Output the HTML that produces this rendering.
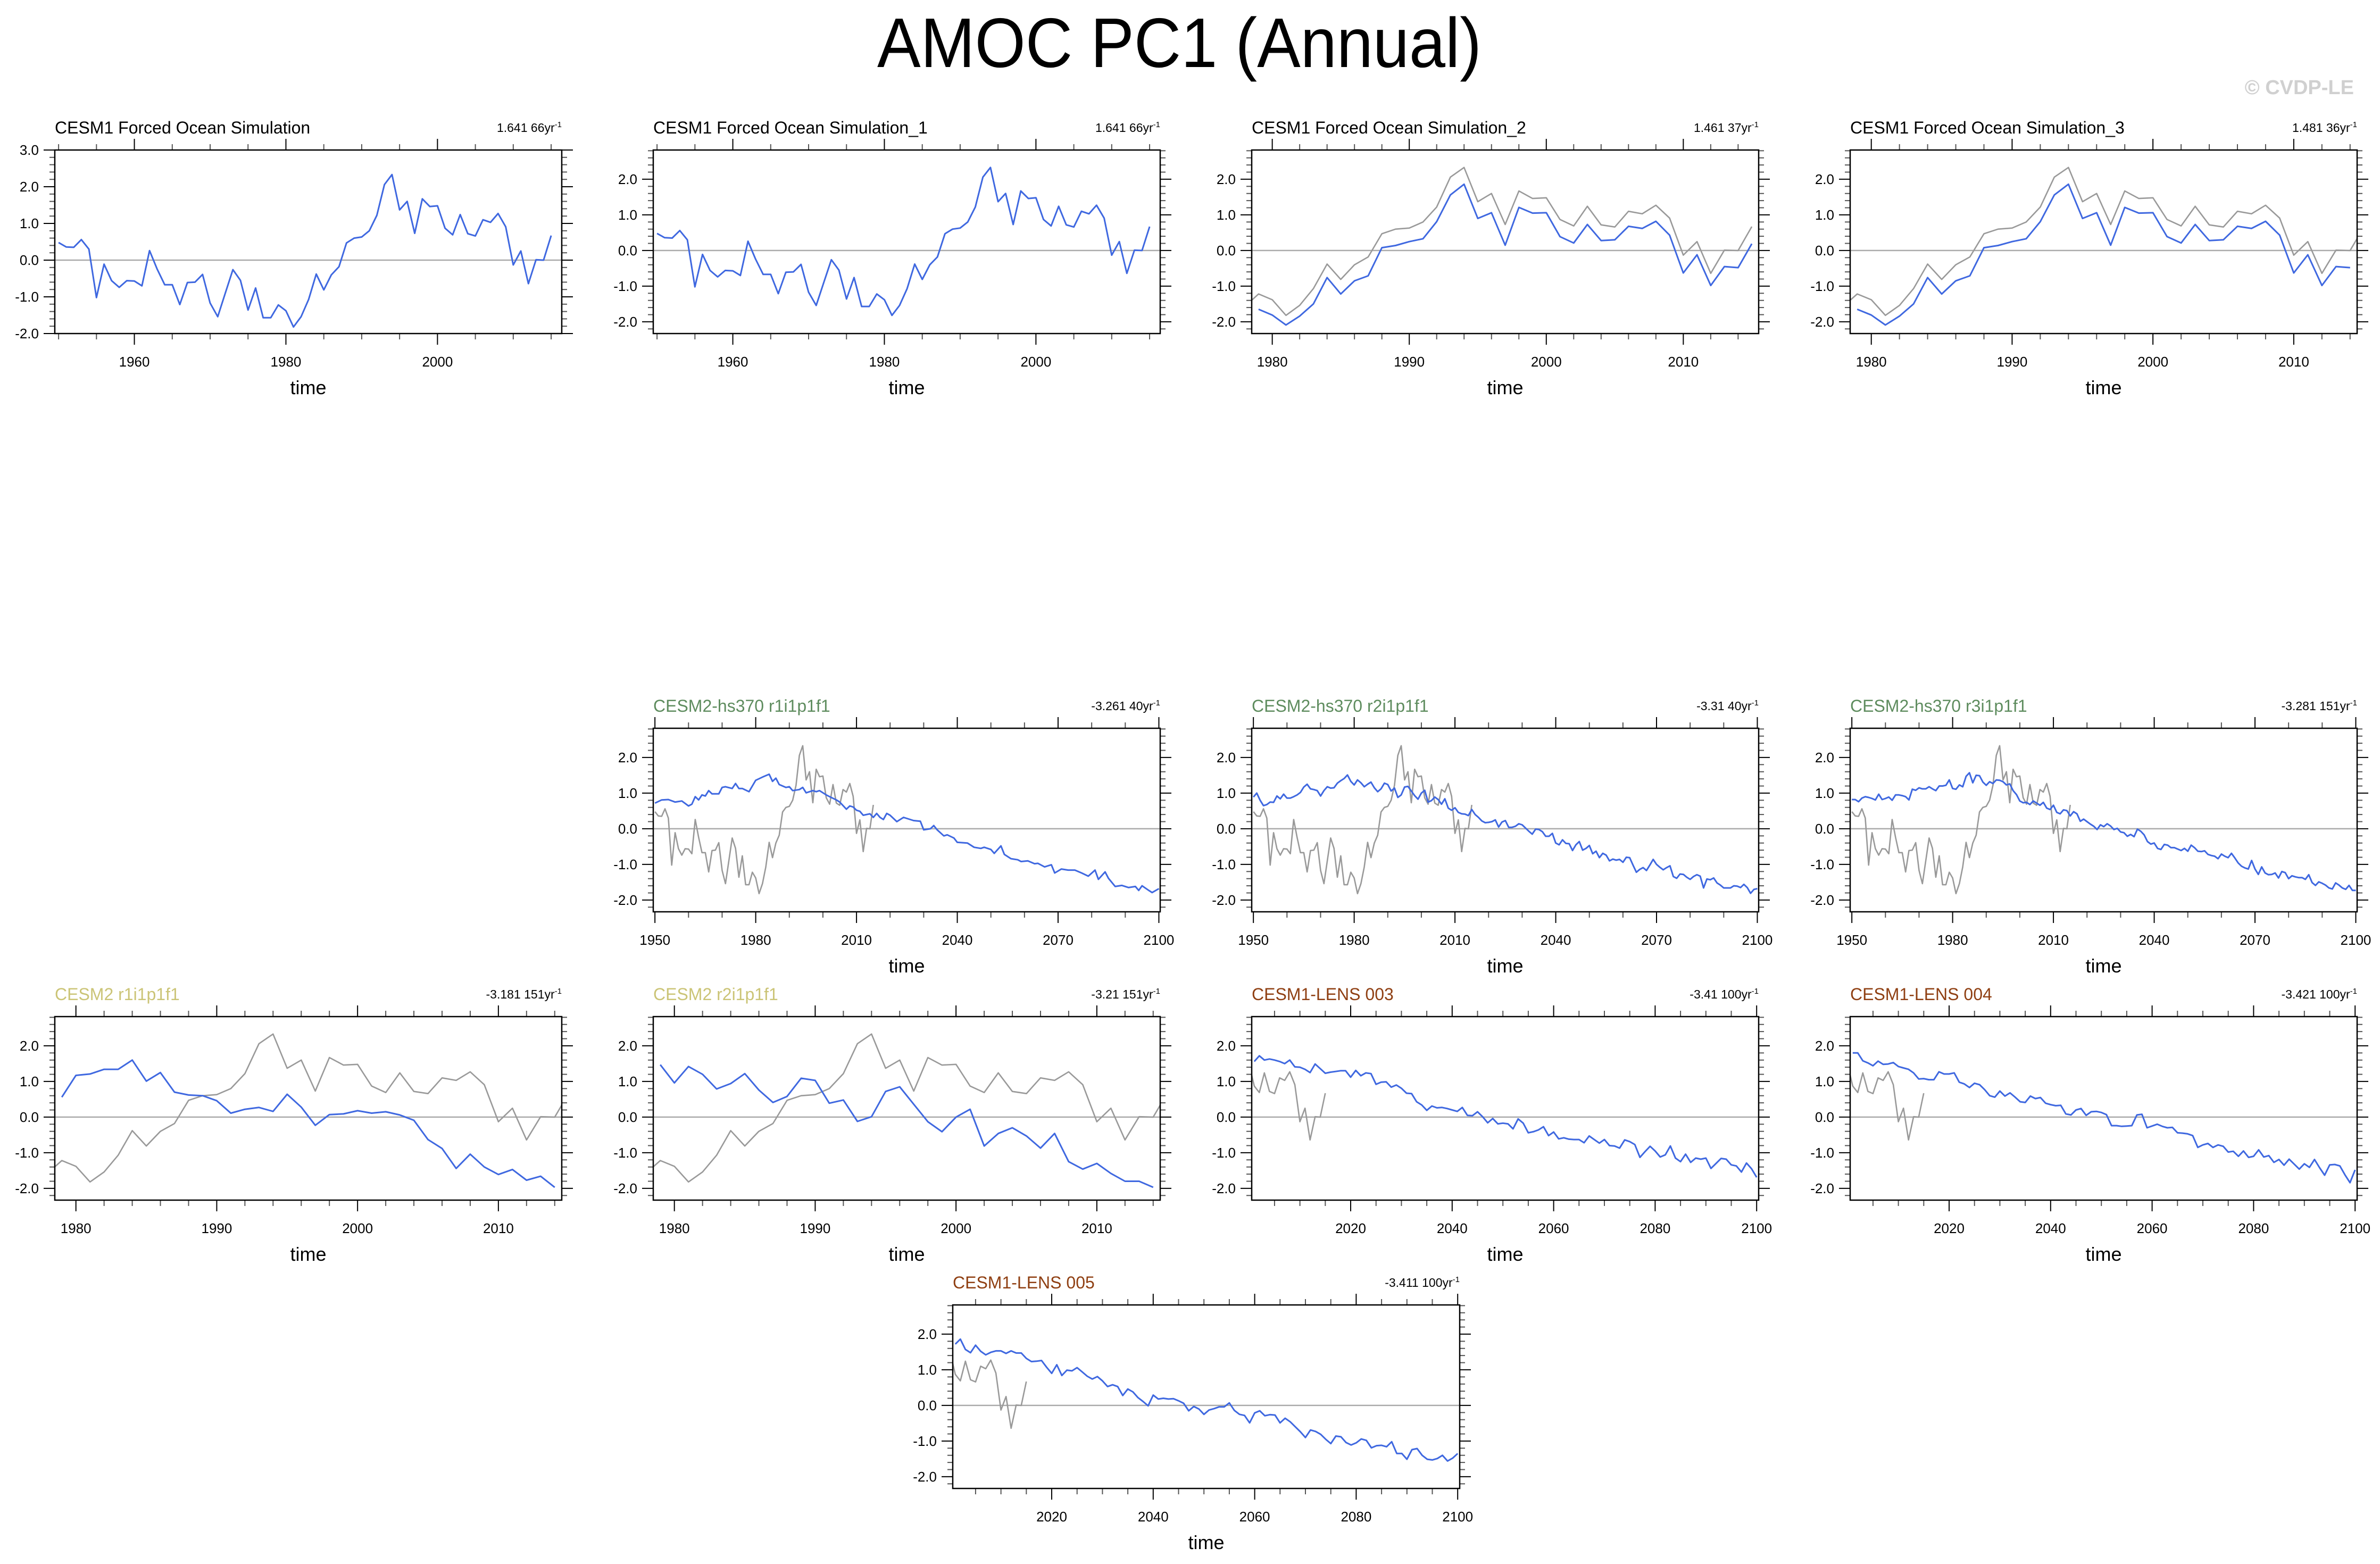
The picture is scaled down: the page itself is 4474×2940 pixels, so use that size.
<!DOCTYPE html>
<html><head><meta charset="utf-8"><title>AMOC PC1 (Annual)</title>
<style>
html,body{margin:0;padding:0;background:#fff;}
svg{display:block;font-family:"Liberation Sans",Arial,sans-serif;}
</style></head>
<body>
<svg id="chart" width="4474" height="2940" viewBox="0 0 4474 2940" xmlns="http://www.w3.org/2000/svg">
<rect x="0" y="0" width="4474" height="2940" fill="#fff"/>
<text x="2217" y="126" font-size="132" text-anchor="middle" textLength="1136" lengthAdjust="spacingAndGlyphs" fill="#000">AMOC PC1 (Annual)</text>
<text x="4425" y="177" font-size="38" font-weight="bold" text-anchor="end" fill="#d0d0d0">© CVDP-LE</text>
<defs id="defs"></defs>
</svg>
<script>
// ---------- data ----------
const obsStart = 1950;
const obsValues = [0.48,0.36,0.35,0.56,0.30,-1.02,-0.11,-0.56,-0.74,-0.56,-0.57,-0.70,0.26,-0.24,-0.67,-0.67,-1.21,-0.61,-0.60,-0.39,-1.17,-1.54,-0.90,-0.26,-0.55,-1.36,-0.76,-1.57,-1.57,-1.22,-1.38,-1.82,-1.54,-1.07,-0.38,-0.81,-0.40,-0.18,0.47,0.60,0.63,0.80,1.22,2.06,2.33,1.37,1.60,0.73,1.67,1.46,1.48,0.87,0.69,1.24,0.72,0.66,1.10,1.03,1.27,0.91,-0.13,0.25,-0.64,0.01,0.00,0.67];

const fosi2Start = 1979;
const fosi2Values = [-1.65,-1.81,-2.09,-1.84,-1.50,-0.76,-1.22,-0.85,-0.71,0.08,0.14,0.25,0.33,0.81,1.56,1.86,0.90,1.06,0.15,1.21,1.05,1.06,0.39,0.21,0.73,0.28,0.30,0.68,0.62,0.82,0.43,-0.63,-0.12,-0.98,-0.45,-0.48,0.19];
const fosi3Start = 1979;
const fosi3Values = [-1.65,-1.81,-2.09,-1.84,-1.50,-0.76,-1.22,-0.85,-0.71,0.08,0.14,0.25,0.33,0.81,1.56,1.86,0.90,1.06,0.15,1.21,1.05,1.06,0.39,0.21,0.73,0.28,0.30,0.68,0.62,0.82,0.43,-0.63,-0.12,-0.98,-0.45,-0.48];

const hs1Years = [1950,1952,1954,1956,1958,1960,1961,1962,1963,1964,1965,1966,1967,1969,1970,1971,1973,1974,1975,1976,1978,1980,1982,1984,1985,1986,1987,1989,1990,1991,1993,1994,1995,1997,1998,1999,2001,2002,2004,2005,2007,2008,2009,2010,2011,2012,2014,2015,2016,2017,2018,2019,2020,2022,2023,2024,2026,2027,2029,2030,2032,2033,2034,2036,2037,2039,2040,2043,2044,2045,2047,2048,2050,2051,2053,2054,2056,2058,2059,2061,2063,2064,2066,2068,2069,2071,2073,2075,2077,2079,2081,2082,2084,2085,2087,2089,2091,2093,2094,2095,2097,2098,2100];
const hs1Values = [0.72,0.81,0.82,0.75,0.78,0.64,0.69,0.90,0.81,0.95,0.92,1.07,0.98,0.98,1.16,1.18,1.13,1.27,1.13,1.13,1.04,1.36,1.45,1.53,1.33,1.42,1.24,1.16,1.18,1.07,1.10,1.16,1.01,1.07,1.04,1.07,0.95,0.90,0.81,0.75,0.55,0.64,0.61,0.52,0.49,0.38,0.42,0.32,0.43,0.32,0.26,0.43,0.38,0.20,0.26,0.32,0.26,0.23,0.21,-0.03,0.00,0.09,-0.03,-0.20,-0.17,-0.26,-0.38,-0.40,-0.46,-0.52,-0.55,-0.52,-0.58,-0.69,-0.48,-0.72,-0.84,-0.87,-0.92,-0.90,-0.98,-0.97,-1.07,-1.01,-1.24,-1.13,-1.16,-1.16,-1.24,-1.33,-1.16,-1.42,-1.21,-1.39,-1.62,-1.59,-1.65,-1.62,-1.73,-1.60,-1.73,-1.79,-1.68];

const hs2Start = 1950;
const hs2Values = [0.89,1.00,0.80,0.65,0.68,0.75,0.74,0.92,0.84,0.97,0.86,0.86,0.90,0.95,1.02,1.17,1.25,1.12,1.10,1.07,0.92,1.07,1.18,1.14,1.15,1.28,1.35,1.41,1.51,1.33,1.23,1.37,1.29,1.18,1.25,1.31,1.15,1.04,1.12,1.28,1.24,1.06,1.14,0.88,0.95,1.17,1.19,1.06,0.93,0.83,1.00,1.08,0.75,0.79,0.89,0.82,0.69,0.84,0.58,0.52,0.59,0.46,0.42,0.41,0.37,0.54,0.40,0.32,0.22,0.17,0.18,0.20,0.25,0.05,0.19,0.23,0.04,0.04,0.07,0.14,0.11,0.02,-0.07,-0.15,-0.01,-0.02,-0.08,-0.21,-0.21,-0.13,-0.40,-0.45,-0.31,-0.41,-0.42,-0.61,-0.45,-0.36,-0.60,-0.55,-0.47,-0.70,-0.63,-0.81,-0.69,-0.74,-0.90,-0.85,-0.88,-0.86,-0.94,-0.80,-0.81,-1.02,-1.22,-1.14,-1.09,-1.17,-1.02,-0.86,-1.00,-1.08,-1.15,-1.09,-1.04,-1.34,-1.39,-1.27,-1.28,-1.36,-1.42,-1.34,-1.29,-1.33,-1.66,-1.41,-1.43,-1.38,-1.52,-1.58,-1.66,-1.66,-1.66,-1.60,-1.61,-1.65,-1.56,-1.65,-1.81,-1.70,-1.68];

const hs3Start = 1950;
const hs3Values = [0.82,0.82,0.76,0.86,0.90,0.88,0.85,0.81,0.97,0.82,0.85,0.89,0.80,0.95,0.95,0.93,0.90,0.81,1.11,1.08,1.15,1.12,1.12,1.18,1.12,1.07,1.20,1.20,1.22,1.37,1.13,1.11,1.23,1.18,1.47,1.57,1.29,1.50,1.49,1.31,1.22,1.32,1.27,1.37,1.36,1.32,1.23,1.26,1.07,0.96,0.78,0.73,0.74,0.68,0.78,0.72,0.66,0.74,0.58,0.54,0.66,0.46,0.42,0.53,0.51,0.36,0.48,0.42,0.21,0.27,0.20,0.13,0.07,-0.02,0.11,0.06,0.14,0.08,-0.02,0.01,-0.09,-0.11,-0.21,-0.16,-0.22,-0.01,-0.07,-0.17,-0.36,-0.43,-0.40,-0.55,-0.58,-0.44,-0.46,-0.53,-0.53,-0.57,-0.61,-0.55,-0.63,-0.46,-0.53,-0.63,-0.64,-0.62,-0.72,-0.75,-0.77,-0.84,-0.71,-0.77,-0.81,-0.69,-0.82,-0.96,-1.05,-1.10,-1.13,-0.89,-1.13,-1.28,-1.07,-1.24,-1.29,-1.28,-1.24,-1.38,-1.20,-1.23,-1.40,-1.32,-1.35,-1.37,-1.37,-1.42,-1.29,-1.51,-1.59,-1.49,-1.53,-1.58,-1.66,-1.69,-1.52,-1.58,-1.66,-1.70,-1.59,-1.73,-1.73];

const cesm2r1Start = 1979;
const cesm2r1Values = [0.56,1.17,1.21,1.34,1.34,1.60,1.01,1.25,0.70,0.62,0.60,0.46,0.11,0.22,0.27,0.16,0.64,0.28,-0.23,0.07,0.09,0.18,0.11,0.15,0.06,-0.09,-0.63,-0.88,-1.44,-1.04,-1.40,-1.61,-1.47,-1.77,-1.66,-1.97];
const cesm2r2Start = 1979;
const cesm2r2Values = [1.47,0.96,1.42,1.20,0.79,0.94,1.22,0.76,0.41,0.58,1.09,1.03,0.39,0.48,-0.12,0.01,0.72,0.85,0.36,-0.13,-0.41,0.00,0.22,-0.81,-0.46,-0.30,-0.53,-0.87,-0.46,-1.25,-1.46,-1.30,-1.58,-1.80,-1.80,-1.97];

const lens003Start = 2001;
const lens003Values = [1.56,1.72,1.60,1.63,1.60,1.56,1.50,1.60,1.41,1.40,1.34,1.25,1.49,1.36,1.23,1.26,1.28,1.30,1.30,1.12,1.31,1.16,1.24,1.22,0.92,0.98,0.99,0.84,0.90,0.81,0.67,0.66,0.43,0.34,0.19,0.31,0.26,0.27,0.24,0.20,0.16,0.27,0.05,0.04,0.15,0.01,-0.16,-0.04,-0.19,-0.17,-0.19,-0.33,-0.05,-0.17,-0.44,-0.41,-0.36,-0.27,-0.52,-0.42,-0.61,-0.58,-0.62,-0.63,-0.63,-0.72,-0.53,-0.63,-0.73,-0.63,-0.80,-0.81,-0.87,-0.64,-0.69,-0.77,-1.13,-0.97,-0.82,-0.95,-1.12,-1.06,-0.81,-1.15,-1.25,-1.04,-1.27,-1.15,-1.18,-1.15,-1.44,-1.30,-1.16,-1.18,-1.34,-1.37,-1.54,-1.29,-1.45,-1.69];
const lens004Start = 2001;
const lens004Values = [1.80,1.80,1.58,1.52,1.44,1.57,1.48,1.49,1.53,1.42,1.38,1.34,1.24,1.07,1.08,1.05,1.05,1.27,1.21,1.21,1.24,0.98,0.93,0.83,0.95,0.91,0.77,0.60,0.56,0.73,0.59,0.68,0.56,0.43,0.41,0.59,0.52,0.55,0.39,0.35,0.32,0.33,0.09,0.06,0.20,0.24,0.05,0.15,0.16,0.13,0.07,-0.24,-0.24,-0.26,-0.25,-0.24,0.06,0.08,-0.30,-0.25,-0.20,-0.26,-0.30,-0.29,-0.44,-0.45,-0.47,-0.52,-0.85,-0.78,-0.74,-0.85,-0.78,-0.82,-0.98,-0.96,-1.10,-0.95,-1.13,-1.10,-0.92,-1.12,-1.08,-1.27,-1.19,-1.35,-1.18,-1.32,-1.46,-1.31,-1.41,-1.19,-1.42,-1.63,-1.34,-1.33,-1.37,-1.62,-1.84,-1.48];
const lens005Start = 2001;
const lens005Values = [1.72,1.86,1.57,1.48,1.69,1.52,1.42,1.49,1.53,1.53,1.46,1.53,1.47,1.47,1.32,1.23,1.24,1.26,1.07,0.90,1.14,0.84,0.99,0.97,1.06,0.94,0.82,0.74,0.81,0.69,0.53,0.58,0.53,0.28,0.46,0.38,0.22,0.11,-0.01,0.29,0.18,0.20,0.18,0.19,0.13,0.06,-0.15,-0.03,-0.10,-0.25,-0.13,-0.09,-0.04,-0.04,0.07,-0.14,-0.25,-0.28,-0.49,-0.21,-0.15,-0.29,-0.26,-0.27,-0.49,-0.36,-0.46,-0.60,-0.74,-0.90,-0.69,-0.73,-0.81,-0.95,-1.07,-0.86,-0.88,-1.04,-1.11,-1.05,-0.94,-0.98,-1.19,-1.13,-1.12,-1.16,-1.02,-1.35,-1.35,-1.51,-1.24,-1.21,-1.40,-1.51,-1.53,-1.49,-1.40,-1.56,-1.48,-1.35];

// tick label arrays
const yTicksP1 = [3, 2, 1, 0, -1, -2];
const yTicksStd = [2, 1, 0, -1, -2];
const xTicksObs = [1960, 1980, 2000];
const xTicksFosi = [1980, 1990, 2000, 2010];
const xTicksHs = [1950, 1980, 2010, 2040, 2070, 2100];
const xTicksLens = [2020, 2040, 2060, 2080, 2100];

function yrs(start, n){ const a=[]; for(let i=0;i<n;i++) a.push(start+i); return a; }
const obsYears = yrs(obsStart, obsValues.length);

// ---------- layout (positions only) ----------
const W = 953, H = 345;
const BLUE = '#3f68e0', GREY = '#999999';
const panels = [
 {id:'cesm1-fosi', title:'CESM1 Forced Ocean Simulation', tcol:'#000', stat:'1.641 66yr', L:103, T:282, x0:1949.5, x1:2016.4, y0:-2, y1:3, yt:yTicksP1, xt:xTicksObs, minor:[1950,5,2015],
  series:[{x:obsYears, y:obsValues, c:BLUE}]},
 {id:'cesm1-fosi-1', title:'CESM1 Forced Ocean Simulation_1', tcol:'#000', stat:'1.641 66yr', L:1228, T:282, x0:1949.5, x1:2016.4, y0:-2.33, y1:2.82, yt:yTicksStd, xt:xTicksObs, minor:[1950,5,2015],
  series:[{x:obsYears, y:obsValues, c:BLUE}]},
 {id:'cesm1-fosi-2', title:'CESM1 Forced Ocean Simulation_2', tcol:'#000', stat:'1.461 37yr', L:2353, T:282, x0:1978.5, x1:2015.5, y0:-2.33, y1:2.82, yt:yTicksStd, xt:xTicksFosi, minor:[1980,2,2014],
  series:[{x:obsYears, y:obsValues, c:GREY},{x:yrs(fosi2Start,fosi2Values.length), y:fosi2Values, c:BLUE}]},
 {id:'cesm1-fosi-3', title:'CESM1 Forced Ocean Simulation_3', tcol:'#000', stat:'1.481 36yr', L:3478, T:282, x0:1978.5, x1:2014.5, y0:-2.33, y1:2.82, yt:yTicksStd, xt:xTicksFosi, minor:[1980,2,2014],
  series:[{x:obsYears, y:obsValues, c:GREY},{x:yrs(fosi3Start,fosi3Values.length), y:fosi3Values, c:BLUE}]},
 {id:'cesm2-hs370-r1', title:'CESM2-hs370 r1i1p1f1', tcol:'#5e8c5e', stat:'-3.261 40yr', L:1228, T:1369, x0:1949.5, x1:2100.4, y0:-2.33, y1:2.82, yt:yTicksStd, xt:xTicksHs, minor:[1950,10,2100],
  series:[{x:obsYears, y:obsValues, c:GREY},{x:hs1Years, y:hs1Values, c:BLUE}]},
 {id:'cesm2-hs370-r2', title:'CESM2-hs370 r2i1p1f1', tcol:'#5e8c5e', stat:'-3.31 40yr', L:2353, T:1369, x0:1949.5, x1:2100.4, y0:-2.33, y1:2.82, yt:yTicksStd, xt:xTicksHs, minor:[1950,10,2100],
  series:[{x:obsYears, y:obsValues, c:GREY},{x:yrs(hs2Start,hs2Values.length), y:hs2Values, c:BLUE}]},
 {id:'cesm2-hs370-r3', title:'CESM2-hs370 r3i1p1f1', tcol:'#5e8c5e', stat:'-3.281 151yr', L:3478, T:1369, x0:1949.5, x1:2100.4, y0:-2.33, y1:2.82, yt:yTicksStd, xt:xTicksHs, minor:[1950,10,2100],
  series:[{x:obsYears, y:obsValues, c:GREY},{x:yrs(hs3Start,hs3Values.length), y:hs3Values, c:BLUE}]},
 {id:'cesm2-r1', title:'CESM2 r1i1p1f1', tcol:'#cbc476', stat:'-3.181 151yr', L:103, T:1911, x0:1978.5, x1:2014.5, y0:-2.33, y1:2.82, yt:yTicksStd, xt:xTicksFosi, minor:[1980,2,2014],
  series:[{x:obsYears, y:obsValues, c:GREY},{x:yrs(cesm2r1Start,cesm2r1Values.length), y:cesm2r1Values, c:BLUE}]},
 {id:'cesm2-r2', title:'CESM2 r2i1p1f1', tcol:'#cbc476', stat:'-3.21 151yr', L:1228, T:1911, x0:1978.5, x1:2014.5, y0:-2.33, y1:2.82, yt:yTicksStd, xt:xTicksFosi, minor:[1980,2,2014],
  series:[{x:obsYears, y:obsValues, c:GREY},{x:yrs(cesm2r2Start,cesm2r2Values.length), y:cesm2r2Values, c:BLUE}]},
 {id:'cesm1-lens-003', title:'CESM1-LENS 003', tcol:'#8f3f12', stat:'-3.41 100yr', L:2353, T:1911, x0:2000.5, x1:2100.4, y0:-2.33, y1:2.82, yt:yTicksStd, xt:xTicksLens, minor:[2005,5,2100],
  series:[{x:obsYears, y:obsValues, c:GREY},{x:yrs(lens003Start,lens003Values.length), y:lens003Values, c:BLUE}]},
 {id:'cesm1-lens-004', title:'CESM1-LENS 004', tcol:'#8f3f12', stat:'-3.421 100yr', L:3478, T:1911, x0:2000.5, x1:2100.4, y0:-2.33, y1:2.82, yt:yTicksStd, xt:xTicksLens, minor:[2005,5,2100],
  series:[{x:obsYears, y:obsValues, c:GREY},{x:yrs(lens004Start,lens004Values.length), y:lens004Values, c:BLUE}]},
 {id:'cesm1-lens-005', title:'CESM1-LENS 005', tcol:'#8f3f12', stat:'-3.411 100yr', L:1791, T:2453, x0:2000.5, x1:2100.4, y0:-2.33, y1:2.82, yt:yTicksStd, xt:xTicksLens, minor:[2005,5,2100],
  series:[{x:obsYears, y:obsValues, c:GREY},{x:yrs(lens005Start,lens005Values.length), y:lens005Values, c:BLUE}]}
];

const NS = 'http://www.w3.org/2000/svg';
const svg = document.getElementById('chart');
const defs = document.getElementById('defs');
function mk(tag, attrs, parent){ const e=document.createElementNS(NS,tag); for(const k in attrs) e.setAttribute(k,attrs[k]); (parent||svg).appendChild(e); return e; }
function fmt(v){ return (v<0?'-':'') + Math.abs(v).toFixed(1); }

panels.forEach(function(p){
  const g = mk('g', {});
  
  
  const xs = function(v){ return p.L + (v - p.x0) / (p.x1 - p.x0) * W; };
  const ys = function(v){ return p.T + (p.y1 - v) / (p.y1 - p.y0) * H; };
  const B = p.T + H, R = p.L + W;

  const cp = mk('clipPath', {id:'clip-' + p.id}, defs);
  mk('rect', {x:p.L, y:p.T, width:W, height:H}, cp);

  const t = mk('text', {x:p.L, y:p.T - 31, 'font-size':32, fill:p.tcol}, g);
  t.textContent = p.title;
  
  
  const s = mk('text', {x:R, y:p.T - 34, 'font-size':23, fill:'#000', 'text-anchor':'end'}, g);
  s.textContent = p.stat;
  const sup = mk('tspan', {dy:-9, 'font-size':15}, s);
  sup.textContent = '-1';
  
  

  for (let v = Math.ceil(p.y0*5)/5; v <= p.y1 + 1e-9; v += 0.2) {
    const vv = Math.round(v*10)/10;
    const y = ys(vv);
    const major = Math.abs(vv - Math.round(vv)) < 1e-6;
    const len = major ? 21 : 10;
    const tk1 = mk('line', {x1:p.L - len, x2:p.L, y1:y, y2:y, stroke: major ? '#000' : '#555', 'stroke-width':2}, g);
    
    
    const tk2 = mk('line', {x1:R, x2:R + len, y1:y, y2:y, stroke: major ? '#000' : '#555', 'stroke-width':2}, g);
    
    
  }
  p.yt.forEach(function(v){
    const lb = mk('text', {x:p.L - 30, y:ys(v) + 9, 'font-size':26, 'text-anchor':'end', fill:'#000'}, g);
    lb.textContent = fmt(v);
    
    
  });
  for (let v = p.minor[0]; v <= p.minor[2]; v += p.minor[1]) {
    const major = p.xt.indexOf(v) >= 0;
    const len = major ? 21 : 11;
    const x = xs(v);
    const a = mk('line', {x1:x, x2:x, y1:p.T - len, y2:p.T, stroke: major ? '#000' : '#555', 'stroke-width':2}, g);
    
    
    const b = mk('line', {x1:x, x2:x, y1:B, y2:B + len, stroke: major ? '#000' : '#555', 'stroke-width':2}, g);
    
    
  }
  p.xt.forEach(function(v){
    const lb = mk('text', {x:xs(v), y:B + 62, 'font-size':26, 'text-anchor':'middle', fill:'#000'}, g);
    lb.textContent = String(v);
    
    
  });
  const xt = mk('text', {x:p.L + W/2, y:B + 114, 'font-size':36, 'text-anchor':'middle', fill:'#000'}, g);
  xt.textContent = 'time';
  
  

  const z = mk('line', {x1:p.L, x2:R, y1:ys(0), y2:ys(0), stroke:'#aaaaaa', 'stroke-width':2.5}, g);
  
  

  const sg = mk('g', {'clip-path':'url(#clip-' + p.id + ')'}, g);
  p.series.forEach(function(se){
    const pts = se.x.map(function(x, i){ return xs(x).toFixed(1) + ',' + ys(se.y[i]).toFixed(1); }).join(' ');
    const pl = mk('polyline', {points:pts, fill:'none', stroke:se.c, 'stroke-width': se.c === BLUE ? 3 : 2.6, 'stroke-linejoin':'round'}, sg);
    
    
  });

  const fr = mk('rect', {x:p.L, y:p.T, width:W, height:H, fill:'none', stroke:'#000', 'stroke-width':2.5}, g);
  
  
});
</script>
</body></html>
